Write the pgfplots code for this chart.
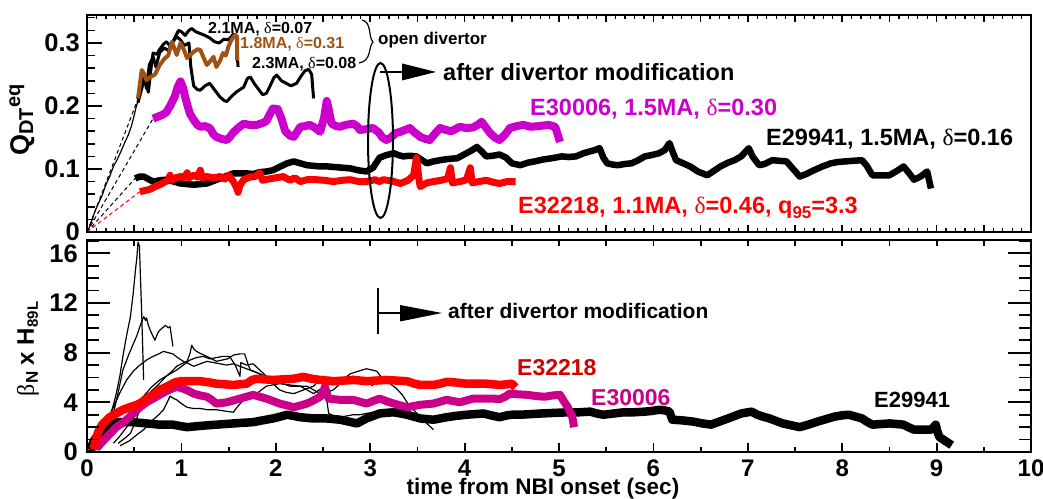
\documentclass[border=0pt]{standalone}
\usepackage{pgfplots}
\pgfplotsset{compat=1.18}
\usepackage{fontspec}
\setmainfont{Liberation Sans}
\newfontfamily\grk{Liberation Serif}
\newcommand{\fs}[1]{\fontsize{#1bp}{#1bp}\selectfont}
\newcommand{\dl}{{\grk\mdseries δ}}
\definecolor{mag}{RGB}{204,0,204}
\definecolor{magb}{RGB}{204,0,136}
\definecolor{brn}{RGB}{160,82,20}
\definecolor{dred}{RGB}{210,0,0}
\begin{document}
\begin{tikzpicture}[x=1bp,y=1bp]
\useasboundingbox (0,0) rectangle (1043,499);

% ---------------- top panel ----------------
\begin{axis}[
 scale only axis, width=944bp, height=217bp,
 at={(87bp,267bp)}, anchor=south west,
 xmin=0,xmax=10,ymin=0,ymax=0.34444,
 xtick=\empty, ytick={0,0.1,0.2,0.3}, yticklabels={0,0.1,0.2,0.3},
 ytick style={draw=none},
 yticklabel style={font=\fs{25.5}\bfseries, anchor=east, inner sep=0pt, xshift=-7bp},
 axis line style={line width=2.2bp},
 every axis plot/.append style={line join=round},
]
% origin lines
\addplot[black, line width=1.2bp] coordinates {(0,0)(0.03,0.009)(0.06,0.022)(0.09,0.035)(0.12,0.045)(0.16,0.058)(0.20,0.075)(0.24,0.088)(0.28,0.104)(0.32,0.115)(0.36,0.128)(0.40,0.142)(0.44,0.155)(0.47,0.168)(0.50,0.185)(0.52,0.198)(0.54,0.208)};
\addplot[black, line width=1bp, dash pattern=on 4bp off 3bp] coordinates {(0,0)(0.55,0.215)};
\addplot[black, line width=1bp, dash pattern=on 4bp off 3bp] coordinates {(0,0)(0.70,0.180)};
\addplot[black, line width=1bp, dash pattern=on 4bp off 3bp] coordinates {(0,0)(0.51,0.085)};
\addplot[red, line width=1bp, dash pattern=on 4bp off 3bp] coordinates {(0,0)(0.56,0.064)};
% E29941
\addplot[black, line width=6.5bp] coordinates {(0.51,0.085)(0.56,0.088)(0.60,0.088)(0.65,0.084)(0.70,0.080)(0.77,0.082)(0.84,0.083)(0.92,0.080)(0.99,0.077)(1.06,0.076)(1.13,0.075)(1.20,0.076)(1.27,0.077)(1.34,0.081)(1.41,0.085)(1.48,0.089)(1.55,0.093)(1.62,0.093)(1.69,0.093)(1.76,0.092)(1.83,0.095)(1.90,0.096)(1.97,0.098)(2.05,0.104)(2.12,0.109)(2.19,0.112)(2.26,0.109)(2.33,0.106)(2.40,0.105)(2.47,0.104)(2.55,0.104)(2.63,0.103)(2.71,0.102)(2.79,0.101)(2.87,0.098)(2.96,0.096)(3.03,0.102)(3.10,0.118)(3.17,0.122)(3.25,0.125)(3.30,0.122)(3.35,0.120)(3.42,0.121)(3.49,0.120)(3.55,0.114)(3.60,0.109)(3.67,0.112)(3.74,0.114)(3.83,0.116)(3.92,0.117)(4.02,0.125)(4.08,0.130)(4.13,0.135)(4.18,0.128)(4.23,0.120)(4.30,0.121)(4.37,0.123)(4.44,0.118)(4.50,0.109)(4.59,0.106)(4.67,0.110)(4.74,0.112)(4.83,0.115)(4.92,0.117)(5.03,0.120)(5.10,0.119)(5.18,0.120)(5.26,0.125)(5.33,0.128)(5.38,0.130)(5.43,0.133)(5.47,0.118)(5.51,0.109)(5.57,0.107)(5.62,0.106)(5.70,0.108)(5.77,0.109)(5.84,0.114)(5.91,0.120)(5.98,0.122)(6.06,0.125)(6.12,0.130)(6.17,0.141)(6.21,0.125)(6.24,0.114)(6.30,0.110)(6.39,0.104)(6.47,0.096)(6.57,0.090)(6.64,0.097)(6.71,0.104)(6.79,0.110)(6.86,0.114)(6.93,0.120)(7.01,0.133)(7.05,0.120)(7.12,0.106)(7.18,0.108)(7.26,0.114)(7.33,0.113)(7.41,0.112)(7.48,0.100)(7.55,0.088)(7.62,0.092)(7.70,0.098)(7.79,0.104)(7.88,0.109)(7.95,0.111)(8.03,0.112)(8.12,0.113)(8.21,0.114)(8.26,0.105)(8.32,0.090)(8.41,0.090)(8.50,0.090)(8.58,0.097)(8.65,0.104)(8.70,0.095)(8.76,0.083)(8.83,0.088)(8.90,0.096)(8.94,0.069)};
% E32218
\addplot[red, line width=7bp] coordinates {(0.56,0.064)(0.62,0.066)(0.67,0.068)(0.72,0.072)(0.77,0.075)(0.82,0.079)(0.86,0.082)(0.88,0.090)(0.90,0.082)(0.94,0.086)(0.99,0.088)(1.03,0.086)(1.06,0.094)(1.08,0.086)(1.13,0.090)(1.17,0.087)(1.20,0.098)(1.22,0.086)(1.27,0.088)(1.34,0.086)(1.41,0.088)(1.46,0.084)(1.50,0.090)(1.55,0.080)(1.58,0.072)(1.60,0.063)(1.62,0.074)(1.66,0.083)(1.72,0.087)(1.78,0.088)(1.83,0.094)(1.86,0.082)(1.92,0.084)(2.00,0.086)(2.08,0.088)(2.15,0.082)(2.20,0.086)(2.26,0.080)(2.33,0.083)(2.43,0.083)(2.52,0.082)(2.61,0.080)(2.70,0.082)(2.79,0.083)(2.88,0.080)(2.96,0.080)(3.05,0.083)(3.10,0.080)(3.14,0.083)(3.23,0.081)(3.32,0.077)(3.40,0.082)(3.46,0.090)(3.49,0.118)(3.52,0.080)(3.53,0.072)(3.60,0.078)(3.67,0.080)(3.75,0.082)(3.82,0.085)(3.85,0.102)(3.87,0.078)(3.95,0.080)(4.02,0.083)(4.06,0.102)(4.08,0.078)(4.15,0.080)(4.23,0.082)(4.30,0.079)(4.37,0.077)(4.45,0.080)(4.54,0.080)};
% E30006
\addplot[mag, line width=8bp] coordinates {(0.70,0.180)(0.75,0.183)(0.80,0.186)(0.84,0.190)(0.88,0.200)(0.93,0.215)(0.96,0.230)(0.99,0.239)(1.02,0.228)(1.04,0.214)(1.07,0.198)(1.09,0.188)(1.13,0.178)(1.17,0.170)(1.20,0.167)(1.25,0.168)(1.30,0.165)(1.34,0.155)(1.37,0.151)(1.42,0.148)(1.48,0.146)(1.52,0.152)(1.55,0.158)(1.60,0.165)(1.66,0.172)(1.72,0.170)(1.80,0.170)(1.86,0.173)(1.90,0.176)(1.94,0.188)(1.97,0.196)(2.02,0.195)(2.06,0.180)(2.10,0.160)(2.15,0.153)(2.19,0.151)(2.23,0.160)(2.26,0.167)(2.31,0.168)(2.36,0.170)(2.42,0.165)(2.47,0.159)(2.51,0.180)(2.54,0.208)(2.56,0.195)(2.59,0.172)(2.64,0.168)(2.68,0.167)(2.74,0.170)(2.82,0.172)(2.86,0.168)(2.89,0.162)(2.95,0.163)(3.03,0.165)(3.09,0.158)(3.13,0.150)(3.17,0.146)(3.22,0.150)(3.27,0.157)(3.32,0.159)(3.37,0.162)(3.42,0.165)(3.47,0.158)(3.53,0.151)(3.58,0.148)(3.63,0.146)(3.68,0.155)(3.74,0.165)(3.80,0.162)(3.86,0.160)(3.95,0.167)(4.02,0.165)(4.09,0.166)(4.14,0.170)(4.18,0.175)(4.23,0.165)(4.27,0.157)(4.32,0.150)(4.37,0.146)(4.43,0.155)(4.48,0.165)(4.55,0.168)(4.62,0.170)(4.70,0.167)(4.78,0.168)(4.89,0.170)(4.96,0.167)(5.01,0.143)};
% 2.3MA
\addplot[black, line width=3bp] coordinates {(0.54,0.21)(0.57,0.232)(0.60,0.250)(0.63,0.228)(0.66,0.265)(0.70,0.278)(0.73,0.262)(0.77,0.285)(0.82,0.292)(0.86,0.288)(0.90,0.300)(0.95,0.310)(0.99,0.305)(1.03,0.296)(1.08,0.300)(1.10,0.262)(1.13,0.232)(1.17,0.226)(1.20,0.225)(1.25,0.232)(1.30,0.236)(1.35,0.226)(1.41,0.214)(1.45,0.209)(1.48,0.207)(1.53,0.215)(1.58,0.222)(1.62,0.226)(1.66,0.230)(1.70,0.244)(1.73,0.246)(1.77,0.236)(1.82,0.226)(1.86,0.218)(1.90,0.220)(1.94,0.232)(1.98,0.245)(2.01,0.249)(2.06,0.240)(2.11,0.236)(2.16,0.232)(2.22,0.236)(2.27,0.248)(2.31,0.256)(2.35,0.258)(2.38,0.250)(2.40,0.212)};
% 2.1MA
\addplot[black, line width=3bp] coordinates {(0.54,0.205)(0.57,0.222)(0.60,0.240)(0.62,0.236)(0.65,0.222)(0.68,0.262)(0.70,0.284)(0.74,0.282)(0.77,0.290)(0.81,0.298)(0.84,0.302)(0.88,0.296)(0.92,0.305)(0.97,0.320)(1.00,0.318)(1.04,0.312)(1.08,0.320)(1.11,0.323)(1.15,0.318)(1.20,0.315)(1.25,0.312)(1.30,0.308)(1.35,0.302)(1.40,0.300)(1.45,0.306)(1.50,0.305)(1.55,0.314)(1.58,0.310)(1.60,0.262)};
% 1.8MA
\addplot[brn, line width=4bp] coordinates {(0.54,0.212)(0.58,0.257)(0.61,0.250)(0.63,0.241)(0.67,0.246)(0.72,0.250)(0.77,0.265)(0.82,0.275)(0.86,0.280)(0.90,0.302)(0.95,0.281)(0.99,0.300)(1.03,0.288)(1.06,0.276)(1.10,0.282)(1.13,0.286)(1.17,0.290)(1.20,0.289)(1.24,0.275)(1.27,0.265)(1.31,0.272)(1.34,0.278)(1.37,0.262)(1.41,0.272)(1.44,0.284)(1.47,0.280)(1.50,0.295)(1.53,0.305)(1.57,0.313)(1.59,0.310)(1.59,0.272)};
% ticks
\pgfplotsinvokeforeach{0,0.1,...,10}{
 \draw[line width=1.3bp] (axis cs:#1,0) -- ++(0,4bp);
 \draw[line width=1.3bp] (axis cs:#1,0.34444) -- ++(0,-4bp);
}
\pgfplotsinvokeforeach{0,0.5,...,10}{
 \draw[line width=1.6bp] (axis cs:#1,0) -- ++(0,7bp);
 \draw[line width=1.6bp] (axis cs:#1,0.34444) -- ++(0,-7bp);
}
\pgfplotsinvokeforeach{0,0.02,...,0.34}{
 \draw[line width=1.5bp] (axis cs:0,#1) -- ++(8bp,0);
}
\pgfplotsinvokeforeach{0,0.1,0.2,0.3}{
 \draw[line width=1.8bp] (axis cs:0,#1) -- ++(15bp,0);
}
\end{axis}

% ---------------- bottom panel ----------------
\begin{axis}[
 scale only axis, width=944bp, height=212bp,
 at={(87bp,47bp)}, anchor=south west,
 xmin=0,xmax=10,ymin=0,ymax=17.07,
 xtick={0,1,2,3,4,5,6,7,8,9,10}, xticklabels={0,1,2,3,4,5,6,7,8,9,10},
 ytick={0,4,8,12,16}, yticklabels={0,4,8,12,16},
 tick style={draw=none},
 xticklabel style={font=\fs{24}\bfseries, anchor=north, inner sep=0pt, yshift=-8bp},
 yticklabel style={font=\fs{25.5}\bfseries, anchor=east, inner sep=0pt, xshift=-9bp},
 axis line style={line width=2.2bp},
 every axis plot/.append style={line join=round},
]
% thin lines
\addplot[black, line width=1.2bp] coordinates {(0,0)(0.05,0.1)(0.10,0.3)(0.14,0.7)(0.19,1.6)(0.24,2.8)(0.28,3.8)(0.31,4.7)(0.35,6.2)(0.38,7.7)(0.42,9.4)(0.46,10.9)(0.49,12.8)(0.51,14.4)(0.53,15.8)(0.54,16.9)(0.555,16.6)(0.58,11.0)(0.60,5.8)};
\addplot[black, line width=1.2bp] coordinates {(0,0)(0.10,0.2)(0.17,0.7)(0.22,1.8)(0.28,3.1)(0.33,4.8)(0.38,6.6)(0.44,7.8)(0.49,8.7)(0.53,9.4)(0.56,10.1)(0.60,10.9)(0.62,10.6)(0.63,10.8)(0.65,10.2)(0.67,9.8)(0.70,9.3)(0.72,9.0)(0.75,9.6)(0.77,9.8)(0.80,10.0)(0.83,10.2)(0.86,10.0)(0.88,10.1)(0.91,8.5)};
\addplot[black, line width=1.2bp] coordinates {(0,0)(0.08,0.4)(0.14,1.2)(0.21,2.5)(0.28,3.6)(0.35,4.8)(0.42,5.8)(0.49,6.5)(0.56,7.0)(0.63,7.4)(0.70,7.7)(0.76,7.9)(0.81,8.1)(0.86,8.0)(0.91,7.9)(0.96,7.6)(1.02,7.3)(1.08,7.1)(1.13,6.9)(1.20,7.1)(1.27,7.3)(1.34,7.2)(1.41,7.1)(1.48,7.0)(1.55,7.1)(1.62,6.9)(1.69,6.7)(1.76,6.5)(1.83,6.3)(1.89,6.1)(1.94,5.9)};
\addplot[black, line width=1.2bp] coordinates {(0.33,0.7)(0.40,1.1)(0.46,1.5)(0.51,2.4)(0.56,3.4)(0.60,4.1)(0.63,4.5)(0.68,4.9)(0.74,5.3)(0.79,5.7)(0.84,6.1)(0.90,6.5)(0.95,6.9)(1.00,7.1)(1.06,7.3)(1.09,7.9)(1.11,8.6)(1.13,8.3)(1.16,8.1)(1.21,7.9)(1.27,7.7)(1.32,7.5)(1.37,7.3)(1.43,7.4)(1.49,7.5)(1.55,7.8)(1.62,7.9)(1.67,7.9)(1.70,7.2)(1.73,6.6)(1.80,6.4)(1.87,6.1)(1.94,5.9)(2.01,5.7)(2.08,5.5)(2.15,5.3)(2.24,5.3)(2.33,5.3)(2.40,5.0)(2.47,4.7)(2.54,4.8)(2.61,5.0)(2.68,5.5)(2.74,6.0)(2.79,6.3)(2.87,6.5)(2.96,6.7)(3.02,6.6)(3.07,6.5)(3.10,6.2)(3.14,5.8)(3.21,5.5)(3.28,5.1)(3.34,4.6)(3.39,4.0)(3.46,3.4)(3.53,2.8)(3.60,2.3)(3.67,1.8)};
\addplot[black, line width=1.2bp] coordinates {(0.28,0.7)(0.35,1.3)(0.42,2.0)(0.51,3.2)(0.60,4.5)(0.68,5.2)(0.77,5.8)(0.86,6.2)(0.95,6.6)(1.02,7.0)(1.09,7.4)(1.16,7.6)(1.23,7.7)(1.30,7.5)(1.37,7.6)(1.44,7.7)(1.51,7.7)(1.57,7.0)(1.62,6.1)(1.63,7.2)(1.69,7.0)(1.76,7.1)(1.83,6.6)(1.90,6.1)(1.97,5.5)(2.04,5.0)(2.11,4.8)(2.19,4.7)(2.26,4.9)(2.33,5.1)(2.40,5.3)(2.45,5.7)(2.50,6.1)(2.54,5.6)(2.61,5.4)(2.68,5.6)(2.75,5.9)(2.82,6.1)(2.89,5.9)(2.96,5.8)(3.03,5.3)};
\addplot[black, line width=1.2bp] coordinates {(0.35,0.5)(0.45,0.9)(0.53,1.4)(0.60,1.8)(0.65,2.2)(0.70,2.6)(0.76,3.0)(0.81,3.4)(0.85,4.0)(0.88,4.5)(0.92,4.3)(0.95,4.2)(1.00,3.9)(1.06,3.6)(1.13,3.5)(1.20,3.5)(1.28,3.4)(1.37,3.4)(1.46,3.3)(1.55,3.2)(1.60,3.7)(1.66,4.2)(1.71,4.4)(1.76,4.5)(1.83,4.9)(1.90,5.3)(1.97,5.4)(2.04,5.5)(2.15,5.4)(2.26,5.3)(2.33,5.0)(2.40,4.7)(2.46,5.0)(2.52,5.3)(2.54,4.2)(2.56,3.1)(2.62,2.9)(2.68,2.8)(2.75,2.9)(2.82,3.0)(2.89,3.0)(2.96,3.1)(3.03,3.2)(3.10,3.2)};
% E29941
\addplot[black, line width=8.5bp] coordinates {(0.03,0.16)(0.08,1.0)(0.14,1.6)(0.21,2.0)(0.26,2.3)(0.31,2.4)(0.40,2.4)(0.49,2.4)(0.56,2.35)(0.63,2.3)(0.70,2.25)(0.77,2.2)(0.84,2.2)(0.91,2.2)(0.98,2.1)(1.06,2.0)(1.13,2.05)(1.20,2.1)(1.28,2.15)(1.37,2.2)(1.46,2.25)(1.55,2.3)(1.65,2.35)(1.76,2.4)(1.86,2.55)(1.97,2.7)(2.05,2.85)(2.12,3.0)(2.19,2.9)(2.26,2.8)(2.33,2.75)(2.40,2.7)(2.47,2.7)(2.54,2.7)(2.61,2.65)(2.68,2.6)(2.77,2.45)(2.86,2.3)(2.91,2.5)(2.96,2.7)(3.03,2.9)(3.10,3.1)(3.17,3.15)(3.25,3.2)(3.32,3.1)(3.39,3.0)(3.46,2.85)(3.53,2.7)(3.60,2.65)(3.67,2.6)(3.74,2.7)(3.81,2.8)(3.90,2.9)(4.02,3.0)(4.11,3.05)(4.20,3.1)(4.28,2.95)(4.37,2.8)(4.45,2.95)(4.50,3.0)(4.59,3.0)(4.70,3.05)(4.81,3.1)(4.96,3.15)(5.11,3.2)(5.22,3.2)(5.33,3.25)(5.40,3.1)(5.47,3.0)(5.58,3.1)(5.69,3.2)(5.80,3.2)(5.91,3.25)(5.98,3.3)(6.06,3.4)(6.12,3.35)(6.17,3.25)(6.20,2.6)(6.30,2.55)(6.42,2.45)(6.52,2.3)(6.61,2.2)(6.70,2.45)(6.79,2.7)(6.86,2.9)(6.93,3.1)(7.04,3.25)(7.10,3.0)(7.16,2.85)(7.23,2.7)(7.30,2.5)(7.37,2.3)(7.46,2.15)(7.55,2.0)(7.64,2.2)(7.74,2.45)(7.83,2.65)(7.92,2.85)(8.00,2.95)(8.07,3.0)(8.14,2.85)(8.21,2.7)(8.26,2.45)(8.32,2.2)(8.41,2.25)(8.50,2.3)(8.58,2.25)(8.65,2.2)(8.70,2.0)(8.76,1.8)(8.85,1.8)(8.94,1.8)(8.97,2.0)(8.99,2.2)(9.01,1.6)(9.03,1.2)(9.08,0.95)(9.13,0.7)(9.16,0.55)};
% E30006
\addplot[magb, line width=8bp] coordinates {(0.10,0.3)(0.16,0.8)(0.21,1.2)(0.26,1.6)(0.31,2.0)(0.37,2.3)(0.42,2.6)(0.49,3.1)(0.56,3.6)(0.63,4.0)(0.70,4.3)(0.77,4.6)(0.84,4.9)(0.90,5.1)(0.95,5.25)(1.02,5.1)(1.08,4.9)(1.13,4.7)(1.20,4.55)(1.27,4.45)(1.32,4.2)(1.37,3.9)(1.43,3.95)(1.48,4.0)(1.55,4.15)(1.62,4.3)(1.69,4.45)(1.76,4.6)(1.83,4.45)(1.90,4.3)(1.97,4.1)(2.04,3.9)(2.12,3.75)(2.19,3.6)(2.26,3.75)(2.33,3.9)(2.40,4.15)(2.47,4.45)(2.50,4.8)(2.52,5.25)(2.54,4.7)(2.56,4.3)(2.62,4.25)(2.68,4.2)(2.75,4.2)(2.82,4.2)(2.89,4.05)(2.96,3.9)(3.03,4.1)(3.10,4.3)(3.17,4.1)(3.25,3.9)(3.32,3.75)(3.39,3.6)(3.46,3.7)(3.53,3.8)(3.60,3.85)(3.67,3.9)(3.74,4.05)(3.81,4.2)(3.88,4.1)(3.95,4.0)(4.02,4.15)(4.09,4.3)(4.16,4.3)(4.23,4.3)(4.30,4.3)(4.37,4.25)(4.43,4.45)(4.48,4.7)(4.55,4.65)(4.67,4.6)(4.76,4.5)(4.85,4.45)(4.93,4.55)(5.01,4.6)(5.05,4.1)(5.09,3.65)(5.14,2.85)(5.16,2.0)};
% E32218
\addplot[red, line width=8.5bp] coordinates {(0.07,0.2)(0.10,1.2)(0.13,1.8)(0.16,2.2)(0.20,2.5)(0.24,2.8)(0.31,3.1)(0.38,3.4)(0.45,3.6)(0.53,3.8)(0.58,4.0)(0.63,4.3)(0.70,4.6)(0.77,5.0)(0.83,5.2)(0.88,5.4)(0.93,5.6)(0.99,5.7)(1.10,5.7)(1.20,5.7)(1.30,5.6)(1.37,5.5)(1.46,5.45)(1.55,5.4)(1.62,5.45)(1.69,5.5)(1.75,5.8)(1.80,5.9)(1.88,5.85)(1.97,5.8)(2.08,5.85)(2.19,5.9)(2.29,6.05)(2.38,5.9)(2.47,5.8)(2.55,5.75)(2.61,5.7)(2.72,5.75)(2.82,5.8)(2.90,5.75)(2.96,5.7)(3.06,5.75)(3.17,5.8)(3.28,5.75)(3.39,5.7)(3.47,5.5)(3.53,5.4)(3.60,5.4)(3.67,5.4)(3.74,5.5)(3.81,5.65)(3.90,5.6)(4.02,5.5)(4.12,5.5)(4.23,5.5)(4.30,5.45)(4.37,5.4)(4.45,5.45)(4.50,5.5)(4.54,5.2)};
% ticks
\pgfplotsinvokeforeach{0,...,10}{
 \draw[line width=1.8bp] (axis cs:#1,0) -- ++(0,9bp);
}
\pgfplotsinvokeforeach{0.5,1.5,...,9.5}{
 \draw[line width=1.8bp] (axis cs:#1,0) -- ++(0,5bp);
}
\pgfplotsinvokeforeach{0,0.5,...,10}{
 \draw[line width=1.8bp] (axis cs:#1,17.07) -- ++(0,-6bp);
}
\pgfplotsinvokeforeach{0,...,17}{
 \draw[line width=1.8bp] (axis cs:0,#1) -- ++(12bp,0);
 \draw[line width=1.8bp] (axis cs:10,#1) -- ++(-12bp,0);
}
\pgfplotsinvokeforeach{0,4,8,12,16}{
 \draw[line width=1.8bp] (axis cs:0,#1) -- ++(23bp,0);
 \draw[line width=1.8bp] (axis cs:10,#1) -- ++(-23bp,0);
}
\end{axis}

% ---------------- labels ----------------
\node[rotate=90] at (22,379) {\fs{27}\bfseries Q\raisebox{-4bp}{\fs{20}DT}\raisebox{9bp}{\fs{20}eq}};
\node[rotate=90] at (28,150) {\fs{24}\bfseries{\grk\mdseries β}\raisebox{-4bp}{\fs{17}N} x H\raisebox{-4bp}{\fs{15}89L}};
\node[anchor=base, inner sep=0pt] at (543,4.5) {\fs{22.5}\bfseries time from NBI onset (sec)};

% ---------------- top annotations ----------------
\node[anchor=base west, inner sep=0pt] at (208,465.8) {\fs{16}\bfseries 2.1MA, \dl=0.07};
\node[anchor=base west, inner sep=0pt, text=brn] at (240,450.8) {\fs{16}\bfseries 1.8MA, \dl=0.31};
\node[anchor=base west, inner sep=0pt] at (252,430.8) {\fs{16}\bfseries 2.3MA, \dl=0.08};
\draw[line width=1.2bp] (362,479) .. controls (372,477) and (368,462) .. (373,457) .. controls (368,452) and (372,438) .. (359,436);
\node[anchor=base west, inner sep=0pt] at (378,454) {\fs{17}\bfseries open divertor};
\draw[line width=2bp] (380.5,358.5) ellipse [x radius=12.5, y radius=77.5];
\draw[line width=1.2bp] (380,427) -- (402,427);
\fill (402,435.5) -- (436,427) -- (402,418.5) -- cycle;
\node[anchor=base west, inner sep=0pt] at (443,418) {\fs{23.5}\bfseries after divertor modification};
\node[anchor=base west, inner sep=0pt, text=mag] at (530,383.6) {\fs{23.5}\bfseries E30006, 1.5MA, \dl=0.30};
\node[anchor=base west, inner sep=0pt] at (766,353.6) {\fs{23.5}\bfseries E29941, 1.5MA, \dl=0.16};
\node[anchor=base west, inner sep=0pt, text=red] at (518,285.6) {\fs{23.5}\bfseries E32218, 1.1MA, \dl=0.46, q\raisebox{-5bp}{\fs{17}95}=3.3};

% ---------------- bottom annotations ----------------
\draw[line width=1.2bp] (378,211) -- (378,165);
\draw[line width=1.2bp] (378,186) -- (400,186);
\fill (400,194) -- (442,186) -- (400,177.5) -- cycle;
\node[anchor=base west, inner sep=0pt] at (448,180) {\fs{21}\bfseries after divertor modification};
\node[anchor=base west, inner sep=0pt, text=dred] at (517,123.7) {\fs{23}\bfseries E32218};
\node[anchor=base west, inner sep=0pt, text=magb] at (591,93.7) {\fs{23}\bfseries E30006};
\node[anchor=base west, inner sep=0pt] at (874,91) {\fs{22}\bfseries E29941};
\end{tikzpicture}
\end{document}
